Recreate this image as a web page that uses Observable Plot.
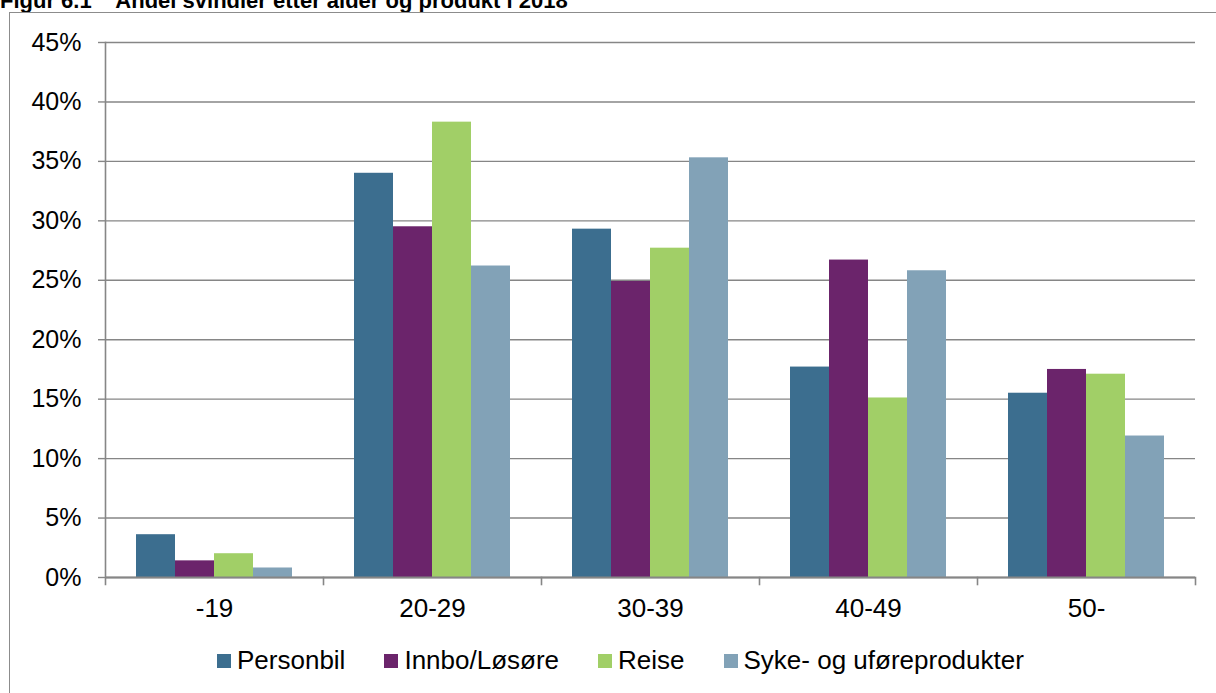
<!DOCTYPE html>
<html>
<head>
<meta charset="utf-8">
<script src="https://cdn.jsdelivr.net/npm/d3@7"></script>
<script src="https://cdn.jsdelivr.net/npm/@observablehq/plot@0.6"></script>
<style>
  html, body { margin: 0; padding: 0; background: #fff; }
  #wrap { position: relative; width: 1216px; height: 693px; overflow: hidden; font-family: "Liberation Sans", Arial, sans-serif; }
  #title { position: absolute; left: 0; top: -12px; font-family: "Liberation Sans", Arial, sans-serif; font-weight: bold; font-size: 22px; white-space: pre; color: #000; }
  #border { position: absolute; left: 9px; top: 12px; width: 1300px; height: 800px; border: 1.5px solid #8c8c8c; box-sizing: border-box; }
  #chart { position: absolute; left: 0; top: 0; }
  #legend { position: absolute; left: 217px; top: 645px; display: flex; align-items: center; font-size: 26px; color: #000; white-space: nowrap; }
  .item { display: flex; align-items: center; margin-right: 39px; }
  .sw { width: 14px; height: 14px; margin-right: 6px; }
</style>
</head>
<body>
<div id="wrap">
  <div id="title">Figur 6.1    Andel svindler etter alder og produkt i 2018</div>
  <div id="border"></div>
  <div id="chart"></div>
  <div id="legend"></div>
</div>
<script>
const groups = ["-19", "20-29", "30-39", "40-49", "50-"];
const products = ["Personbil", "Innbo/Løsøre", "Reise", "Syke- og uføreprodukter"];
const colors = ["#3c6e8f", "#6b246b", "#a1cf67", "#82a2b7"];
const personbil = [3.6, 34.0, 29.3, 17.7, 15.5];
const innbo = [1.4, 29.5, 24.9, 26.7, 17.5];
const reise = [2.0, 38.3, 27.7, 15.1, 17.1];
const syke = [0.8, 26.2, 35.3, 25.8, 11.9];
const yTicks = [0, 5, 10, 15, 20, 25, 30, 35, 40, 45];

const series = [personbil, innbo, reise, syke];
const table = groups.flatMap((g, i) => products.map((p, j) => ({group: g, product: p, value: series[j][i]})));

const gray = "#868686";
const chart = Plot.plot({
  width: 1216,
  height: 630,
  marginLeft: 103,
  marginRight: 19,
  marginTop: 42,
  marginBottom: 53,
  style: {fontFamily: "Liberation Sans, Arial, sans-serif", fontSize: "25px", color: "#000", background: "transparent"},
  fx: {domain: groups, padding: 0},
  x: {domain: products, paddingInner: 0, paddingOuter: 0.73, axis: null},
  y: {domain: [0, 45]},
  color: {domain: products, range: colors},
  marks: [
    Plot.gridY({ticks: yTicks, stroke: gray, strokeOpacity: 1, strokeWidth: 1.4}),
    Plot.barY(table, {fx: "group", x: "product", y: "value", fill: "product"}),
    Plot.ruleY([0], {stroke: gray, strokeWidth: 2}),
    Plot.frame({anchor: "left", facetAnchor: "left", insetBottom: -7, stroke: gray, strokeWidth: 1.6}),
    Plot.frame({anchor: "right", insetTop: 535, insetBottom: -7, stroke: gray, strokeWidth: 1.6}),
    Plot.axisY({ticks: yTicks, tickSize: 7, tickPadding: 17, tickFormat: d => d + "%", label: null, stroke: gray, strokeWidth: 1.4, fontSize: 25}),
    Plot.axisFx({anchor: "bottom", tickSize: 0, tickPadding: 21, label: null, fontSize: 26})
  ]
});
document.getElementById("chart").appendChild(chart);

const legend = document.getElementById("legend");
products.forEach((p, i) => {
  const item = document.createElement("div");
  item.className = "item";
  const sw = document.createElement("div");
  sw.className = "sw";
  sw.style.background = colors[i];
  const lab = document.createElement("span");
  lab.textContent = p;
  item.appendChild(sw);
  item.appendChild(lab);
  legend.appendChild(item);
});
</script>
</body>
</html>
